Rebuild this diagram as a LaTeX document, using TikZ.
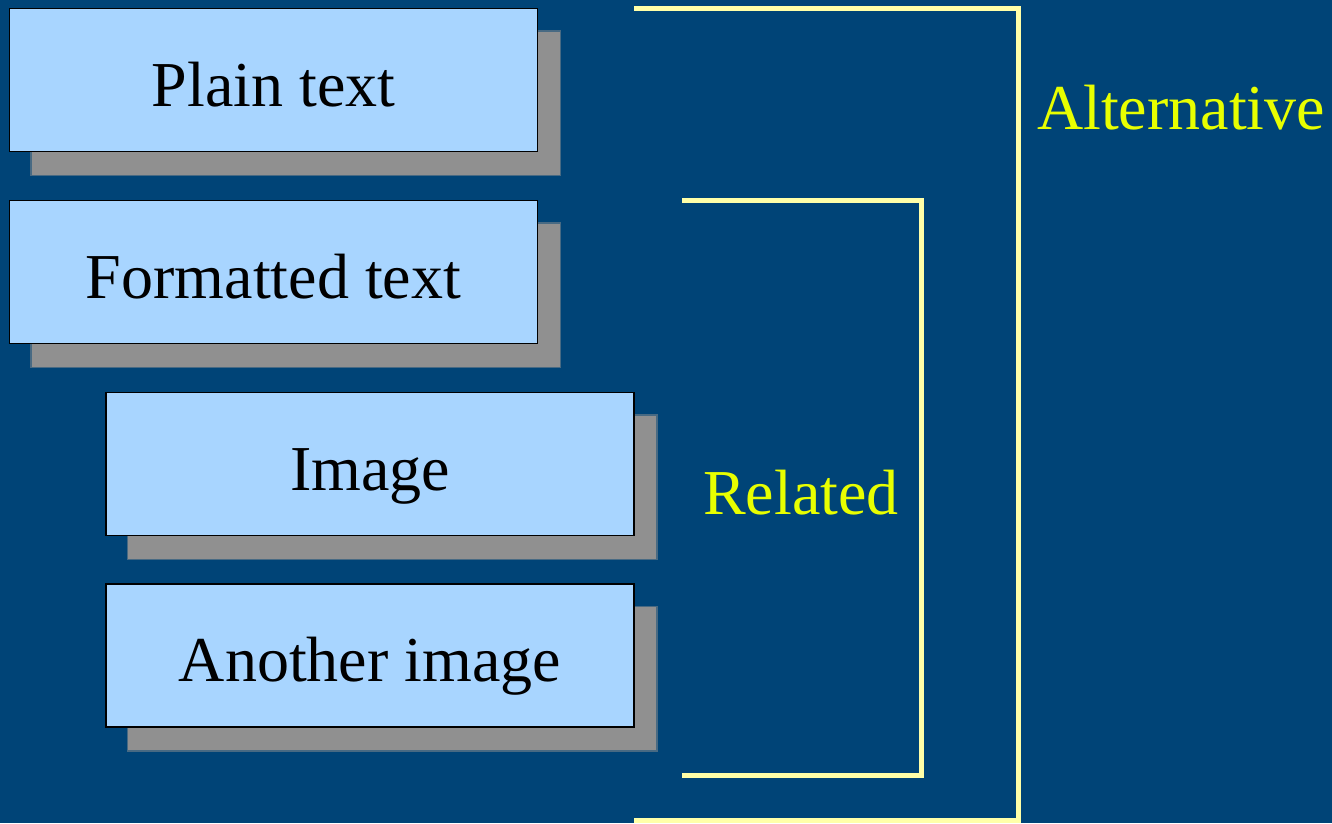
\documentclass[tikz,border=0pt]{standalone}
\usepackage{fontspec}
\setmainfont{Liberation Serif}
\usetikzlibrary{shadows}
\definecolor{bgblue}{HTML}{004477}
\definecolor{boxfill}{HTML}{A8D5FF}
\definecolor{shadowgray}{HTML}{909090}
\definecolor{bracketyellow}{HTML}{FFFFA8}
\definecolor{labelyellow}{HTML}{E8FF00}
\tikzset{
  msgbox/.style={draw=black, line width=1.5pt, fill=boxfill, minimum width=528pt, minimum height=143pt,
    inner sep=0pt, text height=52pt, text depth=0pt, font=\fontsize{64}{70}\selectfont, text=black,
    drop shadow={shadow xshift=22pt, shadow yshift=-23pt, fill=shadowgray, opacity=0.5, draw=shadowgray, line width=3pt},
    drop shadow={shadow xshift=22pt, shadow yshift=-23pt, fill=shadowgray, opacity=1, draw=none}},
  bracket/.style={draw=bracketyellow, line width=5pt, line join=miter},
  lbl/.style={text=labelyellow, font=\fontsize{64}{70}\selectfont, inner sep=0pt}
}
\begin{document}
\begin{tikzpicture}[x=1pt, y=-1pt]
\fill[bgblue] (0,0) rectangle (1332,823);
\useasboundingbox (0,0) rectangle (1332,823);
\node[msgbox] (plain) at (273.5,80) {Plain text};
\node[msgbox] (formatted) at (273.5,272) {Formatted text};
\node[msgbox] (image) at (370,464) {Image};
\node[msgbox] (another) at (370,655.5) {Another image};
% brackets
\coordinate (alt1) at (634,8);
\coordinate (alt2) at (1018,8);
\coordinate (alt3) at (1018,823);
\coordinate (alt4) at (634,820);
\draw[bracket] (alt1) -- (alt2) -- (alt3);
\draw[bracket] (alt4) -- (1018,820);
\coordinate (rel1) at (682,200);
\coordinate (rel2) at (921,200);
\coordinate (rel3) at (921,775);
\coordinate (rel4) at (682,775);
\draw[bracket] (rel1) -- (rel2) -- (rel3) -- (rel4);
\node[lbl] (alternative) at (1181,108) {Alternative};
\node[lbl] (related) at (801,493) {Related};
\end{tikzpicture}
\end{document}
